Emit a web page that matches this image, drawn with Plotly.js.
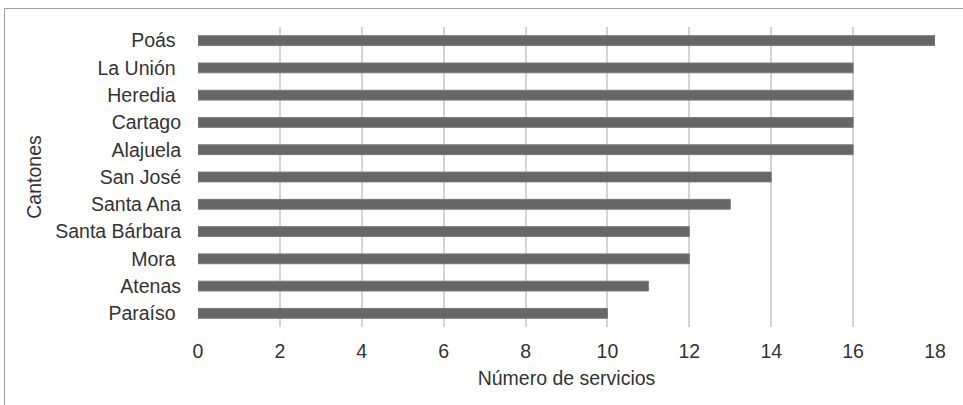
<!DOCTYPE html>
<html><head><meta charset="utf-8">
<script src="https://cdn.plot.ly/plotly-3.0.1.min.js"></script>
<style>
html,body{margin:0;padding:0;background:#fff;}
#wrap{position:relative;width:963px;height:405px;}
#chart{position:absolute;left:0;top:0;width:963px;height:405px;}
#frame{position:absolute;left:4px;top:8px;width:959px;height:397px;border-top:1px solid #a0a0a0;border-left:1px solid #a0a0a0;pointer-events:none;}
</style>
</head><body>
<div id="wrap"><div id="chart"></div><div id="frame"></div></div>
<script>
// Data (top to bottom as shown)
const cantones = ["Poás\u00a0", "La Unión\u00a0", "Heredia\u00a0", "Cartago", "Alajuela", "San José", "Santa Ana", "Santa Bárbara", "Mora\u00a0", "Atenas", "Paraíso\u00a0"];
const servicios = [18, 16, 16, 16, 16, 14, 13, 12, 12, 11, 10];
const xTicks = [0, 2, 4, 6, 8, 10, 12, 14, 16, 18];

const font = "'Liberation Sans', Arial, sans-serif";
const txt = '#333333';
const trace = {
  type: 'bar',
  orientation: 'h',
  y: cantones,
  x: servicios,
  width: 0.36,
  marker: {color: '#666666', line: {color: '#7a7a7a', width: 1}},
  hoverinfo: 'none'
};
const layout = {
  width: 963, height: 405,
  margin: {l: 198, r: 28, t: 27, b: 78, pad: 0},
  paper_bgcolor: '#ffffff', plot_bgcolor: '#ffffff',
  showlegend: false,
  font: {family: font, size: 19.5, color: txt},
  xaxis: {
    range: [0, 18], tickvals: xTicks, ticktext: xTicks.map(String),
    showgrid: true, gridcolor: '#d4d4d4', gridwidth: 2,
    zeroline: false, showline: false, ticks: '',
    ticklabelstandoff: 10,
    tickfont: {family: font, size: 19.5, color: txt},
    title: {text: 'Número de servicios', font: {family: font, size: 19.5, color: txt}, standoff: 10},
    automargin: false, fixedrange: true
  },
  yaxis: {
    type: 'category', autorange: 'reversed',
    categoryorder: 'array', categoryarray: cantones,
    showgrid: false, zeroline: false, showline: false, ticks: '',
    ticklabelstandoff: 16,
    tickfont: {family: font, size: 19.5, color: txt},
    title: {text: 'Cantones', font: {family: font, size: 19.5, color: txt}, standoff: 8},
    automargin: false, fixedrange: true
  }
};
Plotly.newPlot('chart', [trace], layout, {staticPlot: true, displayModeBar: false});
</script>
</body></html>
